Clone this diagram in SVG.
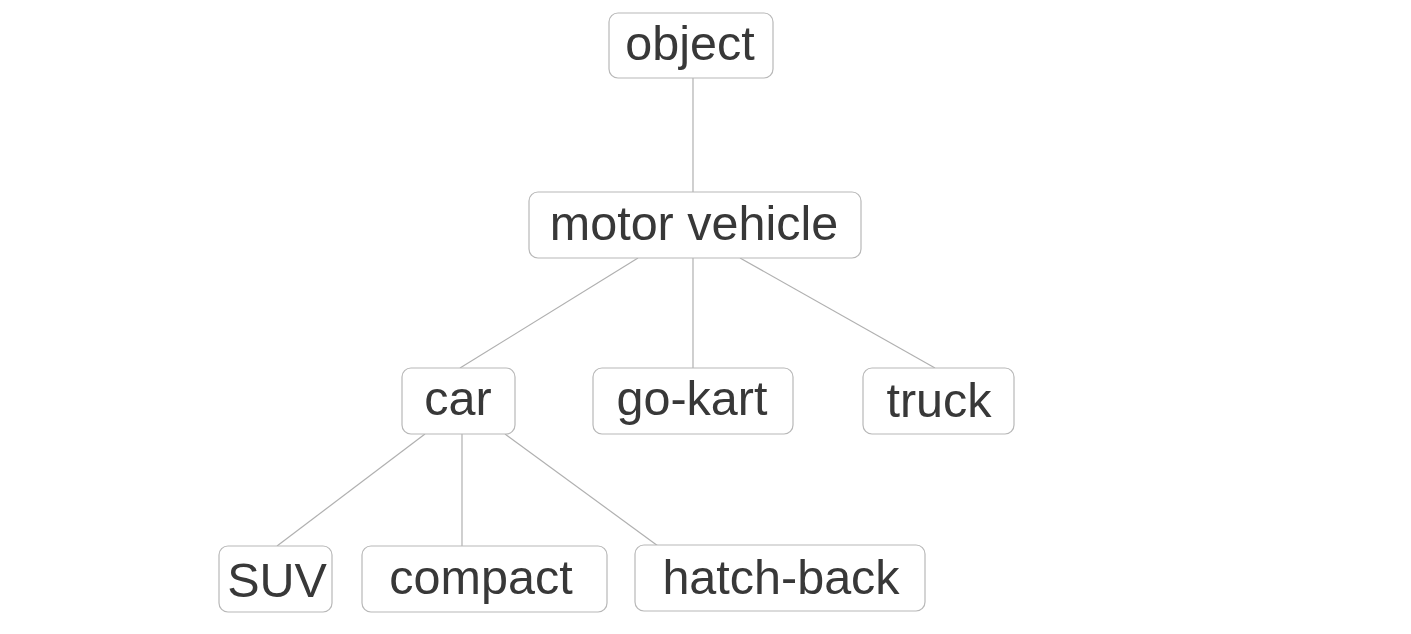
<svg xmlns="http://www.w3.org/2000/svg" width="1411" height="634" viewBox="0 0 1411 634">
<style>
.box{fill:#fff;stroke:#b8b8b8;stroke-width:1.2}
.lbl{font-family:"Liberation Sans",Arial,sans-serif;font-size:48.5px;fill:#383838;text-anchor:middle}
.edge{stroke:#b0b0b0;stroke-width:1.2;fill:none}
</style>
<rect width="1411" height="634" fill="#fff"/>
<g id="connectors">
<line class="edge" x1="693" y1="78" x2="693" y2="192"/>
<line class="edge" x1="638" y1="258" x2="460" y2="368"/>
<line class="edge" x1="693" y1="258" x2="693" y2="368"/>
<line class="edge" x1="740" y1="258" x2="935" y2="368"/>
<line class="edge" x1="425" y1="434" x2="277" y2="546"/>
<line class="edge" x1="462" y1="434" x2="462" y2="546"/>
<line class="edge" x1="505" y1="434" x2="658" y2="546"/>
</g>
<g id="object"><rect class="box" x="609" y="13" width="164" height="65" rx="9"/><text class="lbl" x="690" y="60">object</text></g>
<g id="motor-vehicle"><rect class="box" x="529" y="192" width="332" height="66" rx="9"/><text class="lbl" x="694" y="240">motor vehicle</text></g>
<g id="car"><rect class="box" x="402" y="368" width="113" height="66" rx="9"/><text class="lbl" x="458" y="415">car</text></g>
<g id="go-kart"><rect class="box" x="593" y="368" width="200" height="66" rx="9"/><text class="lbl" x="692" y="415">go-kart</text></g>
<g id="truck"><rect class="box" x="863" y="368" width="151" height="66" rx="9"/><text class="lbl" x="939" y="417">truck</text></g>
<g id="SUV"><rect class="box" x="219" y="546" width="113" height="66" rx="9"/><text class="lbl" x="277" y="597">SUV</text></g>
<g id="compact"><rect class="box" x="362" y="546" width="245" height="66" rx="9"/><text class="lbl" x="481" y="594">compact</text></g>
<g id="hatch-back"><rect class="box" x="635" y="545" width="290" height="66" rx="9"/><text class="lbl" x="781" y="594">hatch-back</text></g>
</svg>
